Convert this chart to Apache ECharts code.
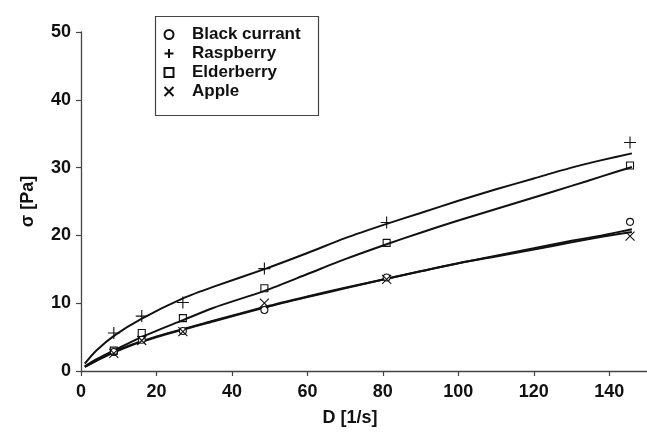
<!DOCTYPE html>
<html>
<head>
<meta charset="utf-8">
<script src="https://cdn.jsdelivr.net/npm/echarts@6/dist/echarts.min.js"></script>
<style>
html,body{margin:0;padding:0;background:#fff;}
#c{width:647px;height:435px;}
</style>
</head>
<body>
<div id="c"></div>
<script>
// ---- data ----
const seriesNames = ['Black currant', 'Raspberry', 'Elderberry', 'Apple'];
const xTickLabels = [0, 20, 40, 60, 80, 100, 120, 140];
const yTickLabels = [0, 10, 20, 30, 40, 50];

// measured points
const measX = [8.7, 16.1, 27.0, 48.6, 81.0, 145.5];
const ptBlackCurrant = [2.8, 4.6, 5.9, 9.0, 13.8, 22.0];
const ptRaspberry = [5.6, 8.1, 10.1, 15.1, 21.9, 33.7];
const ptElderberry = [3.0, 5.6, 7.8, 12.2, 18.9, 30.3];
const ptApple = [2.6, 4.5, 5.8, 10.0, 13.5, 19.9];

// fitted curves
const fitX = [1, 4, 9, 16, 27, 35, 49, 60, 70, 81, 90, 100, 110, 120, 130, 138, 146];
const fitBlackCurrant = [0.6, 1.5, 2.8, 4.3, 6.1, 7.3, 9.4, 10.9, 12.2, 13.6, 14.7, 15.9, 17.0, 18.1, 19.2, 20.0, 20.9];
const fitRaspberry = [1.1, 3.0, 5.3, 7.7, 10.7, 12.4, 15.1, 17.4, 19.6, 21.7, 23.3, 25.1, 26.8, 28.4, 30.0, 31.1, 32.1];
const fitElderberry = [0.7, 1.7, 3.1, 5.0, 7.5, 9.3, 11.9, 14.3, 16.5, 18.7, 20.4, 22.2, 23.9, 25.6, 27.3, 28.7, 30.1];
const fitApple = [0.6, 1.5, 2.9, 4.4, 6.2, 7.4, 9.5, 11.0, 12.3, 13.6, 14.7, 15.9, 16.9, 17.9, 19.0, 19.8, 20.5];

const pts = [ptBlackCurrant, ptRaspberry, ptElderberry, ptApple];
const fits = [fitBlackCurrant, fitRaspberry, fitElderberry, fitApple];

const INK = '#111';
const FONT = '"Liberation Sans", Arial, Helvetica, sans-serif';
const symbols = [
  {symbol: 'circle', size: 7, fill: '#fff'},
  {symbol: 'path://M5,0L5,10M0,5L10,5', size: 12, fill: 'none'},
  {symbol: 'path://M0,0L10,0L10,10L0,10Z', size: 7, fill: 'none'},
  {symbol: 'path://M0,0L10,10M10,0L0,10', size: 9, fill: 'none'}
];

const zip = (xs, ys) => xs.map((x, i) => [x, ys[i]]);

const series = [];
fits.forEach((f, i) => {
  series.push({
    type: 'line',
    name: seriesNames[i] + ' fit',
    data: zip(fitX, f),
    smooth: 0.25,
    showSymbol: false,
    silent: true,
    z: 2,
    lineStyle: {color: INK, width: 2}
  });
});
pts.forEach((p, i) => {
  series.push({
    type: 'scatter',
    name: seriesNames[i],
    data: zip(measX, p),
    symbol: symbols[i].symbol,
    symbolSize: symbols[i].size,
    z: 3,
    itemStyle: {color: symbols[i].fill, borderColor: INK, borderWidth: 1.1, opacity: 1}
  });
});

const chart = echarts.init(document.getElementById('c'), null, {renderer: 'canvas'});
chart.setOption({
  animation: false,
  backgroundColor: '#fff',
  grid: {left: 81, right: 0, top: 32, bottom: 64, containLabel: false},
  xAxis: {
    type: 'value', min: 0, max: 150, interval: 20,
    name: 'D [1/s]', nameLocation: 'middle', nameGap: 38,
    nameTextStyle: {color: INK, fontSize: 18, fontWeight: 'bold', fontFamily: FONT, padding: [0, 28, 0, 0]},
    axisLine: {show: true, lineStyle: {color: '#444', width: 1.3}},
    axisTick: {show: true, length: 5, lineStyle: {color: '#444', width: 1.2}, customValues: xTickLabels},
    axisLabel: {color: INK, fontSize: 18, fontWeight: 'bold', fontFamily: FONT, margin: 12, customValues: xTickLabels},
    splitLine: {show: false}
  },
  yAxis: {
    type: 'value', min: 0, max: 50, interval: 10,
    name: 'σ [Pa]', nameLocation: 'middle', nameGap: 44, nameRotate: 90,
    nameTextStyle: {color: INK, fontSize: 18, fontWeight: 'bold', fontFamily: FONT},
    axisLine: {show: true, lineStyle: {color: '#444', width: 1.3}},
    axisTick: {show: true, length: 5, lineStyle: {color: '#444', width: 1.2}, customValues: yTickLabels},
    axisLabel: {color: INK, fontSize: 18, fontWeight: 'bold', fontFamily: FONT, margin: 10, customValues: yTickLabels},
    splitLine: {show: false}
  },
  legend: {
    data: seriesNames,
    orient: 'vertical',
    left: 162, top: 25,
    padding: 0,
    itemWidth: 36, itemHeight: 9, itemGap: 0,
    selectedMode: false,
    textStyle: {color: INK, fontSize: 17, fontWeight: 'bold', fontFamily: FONT, lineHeight: 19}
  },
  graphic: [{
    type: 'rect', left: 153, top: 14, z: 100,
    shape: {width: 163, height: 99},
    style: {fill: 'none', stroke: '#444', lineWidth: 1.2}
  }],
  series: series
});
</script>
</body>
</html>
